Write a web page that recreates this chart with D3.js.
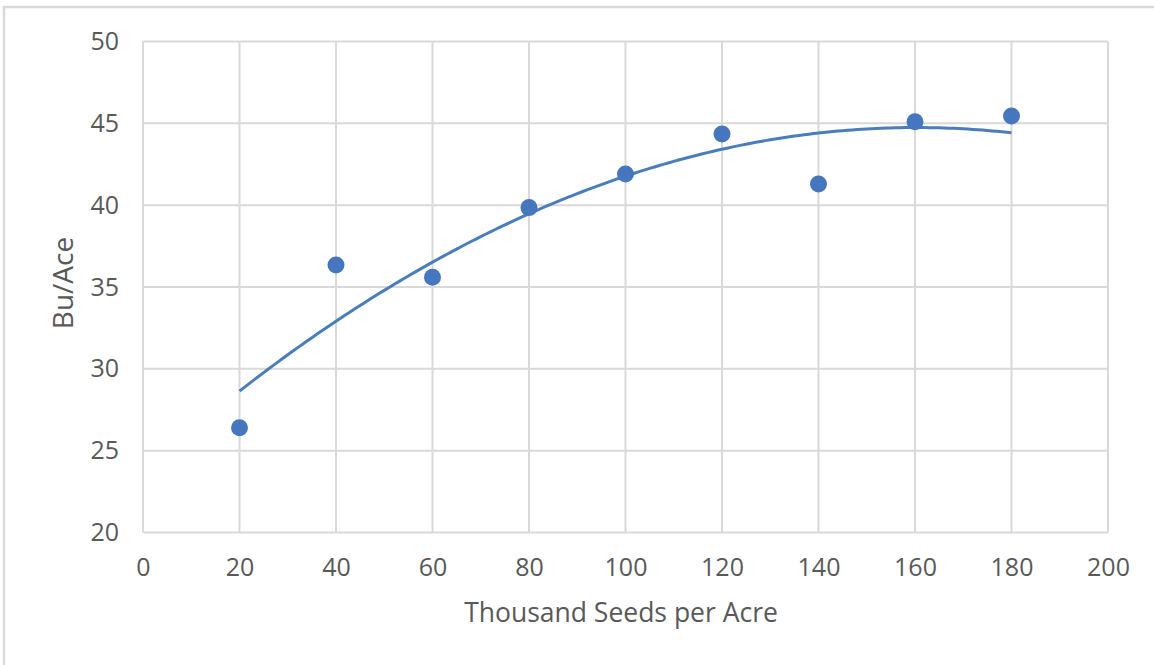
<!DOCTYPE html>
<html>
<head>
<meta charset="utf-8">
<script src="https://cdn.jsdelivr.net/npm/d3@7"></script>
<style>
    body { margin: 0; background: #fff; }
    svg text { font-family: 'Open Sans', sans-serif; fill: #595959; }
</style>
</head>
<body>
<div id="chart_container"></div>
<script>
// seeding rate (thousand seeds per acre) and yield (bu/acre)
var seeds = [20, 40, 60, 80, 100, 120, 140, 160, 180];
var yields = [26.4, 36.35, 35.6, 39.85, 41.9, 44.35, 41.3, 45.1, 45.45];

var xTicks = [0, 20, 40, 60, 80, 100, 120, 140, 160, 180, 200];
var yTicks = [20, 25, 30, 35, 40, 45, 50];

renderChart();

function renderChart() {
    var data = seeds.map((s, i) => ({ x: s, y: yields[i] }));

    var svg = d3.select('#chart_container')
        .append('svg')
        .attr('width', 1154)
        .attr('height', 665);

    // outer frame (only top and left edges are inside the picture)
    svg.append('rect')
        .attr('x', 4)
        .attr('y', 7)
        .attr('width', 1170)
        .attr('height', 680)
        .attr('fill', 'none')
        .attr('stroke', '#d9d9d9')
        .attr('stroke-width', 2.5);

    var g = svg.append('g')
        .attr('transform', 'translate(' + 143 + ', ' + 41.5 + ')');

    const width = 965;
    const height = 491;

    var xScale = d3.scaleLinear()
        .domain([0, 200])
        .range([0, width]);

    var yScale = d3.scaleLinear()
        .domain([20, 50])
        .range([height, 0]);

    // gridlines
    g.selectAll('.vgrid')
        .data(xTicks)
        .enter()
        .append('line')
        .attr('x1', d => xScale(d))
        .attr('x2', d => xScale(d))
        .attr('y1', 0)
        .attr('y2', height)
        .attr('stroke', '#d9d9d9')
        .attr('stroke-width', 2);

    g.selectAll('.hgrid')
        .data(yTicks)
        .enter()
        .append('line')
        .attr('x1', 0)
        .attr('x2', width)
        .attr('y1', d => yScale(d))
        .attr('y2', d => yScale(d))
        .attr('stroke', '#d9d9d9')
        .attr('stroke-width', 2);

    // axes (labels only)
    var xAxis = g.append('g')
        .attr('class', 'x-axis')
        .attr('transform', 'translate(0, ' + height + ')')
        .call(d3.axisBottom(xScale).tickValues(xTicks).tickSize(0).tickPadding(26));

    var yAxis = g.append('g')
        .attr('class', 'y-axis')
        .call(d3.axisLeft(yScale).tickValues(yTicks).tickSize(0).tickPadding(24));

    g.selectAll('.domain').remove();
    g.selectAll('.tick text')
        .attr('font-size', '25px')
        .attr('fill', '#595959')
        .attr('font-family', 'Open Sans');

    // polynomial (order 2) trendline, least squares fit of the points
    var n = data.length;
    var mx = d3.mean(data, d => d.x);
    var s2 = 0, s4 = 0, sy = 0, sty = 0, st2y = 0;
    data.forEach(d => {
        var t = d.x - mx;
        s2 += t * t; s4 += t * t * t * t;
        sy += d.y; sty += t * d.y; st2y += t * t * d.y;
    });
    var b = sty / s2;
    var c = (n * st2y - s2 * sy) / (n * s4 - s2 * s2);
    var a = (sy - c * s2) / n;
    var fit = d3.range(20, 180.5, 1).map(x => ({ x: x, y: a + b * (x - mx) + c * (x - mx) * (x - mx) }));

    g.append('path')
        .datum(fit)
        .attr('d', d3.line().x(d => xScale(d.x)).y(d => yScale(d.y)))
        .attr('fill', 'none')
        .attr('stroke', '#4a7ebb')
        .attr('stroke-width', 3);

    g.selectAll('circle')
        .data(data)
        .enter()
        .append('circle')
        .attr('cx', d => xScale(d.x))
        .attr('cy', d => yScale(d.y))
        .attr('r', 8.5)
        .attr('fill', '#4676bd');

    svg.append('text')
        .attr('x', 621)
        .attr('y', 622)
        .attr('font-size', '26.5px')
        .attr('text-anchor', 'middle')
        .text('Thousand Seeds per Acre');

    svg.append('text')
        .attr('x', -283)
        .attr('y', 73)
        .attr('font-size', '28px')
        .attr('text-anchor', 'middle')
        .attr('transform', 'rotate(-90)')
        .text('Bu/Ace');
}
</script>
</body>
</html>
